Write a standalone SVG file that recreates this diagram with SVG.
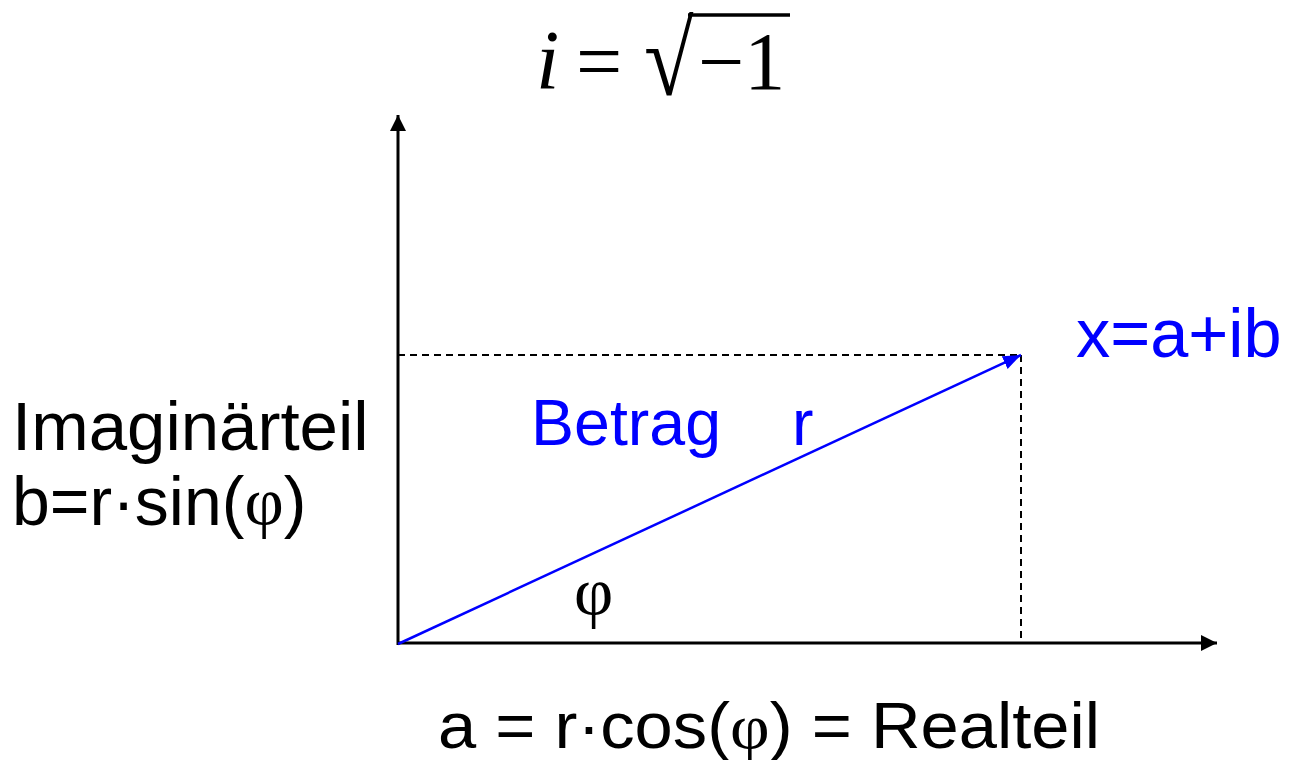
<svg xmlns="http://www.w3.org/2000/svg" width="1289" height="760" viewBox="0 0 1289 760">
<defs>
<marker id="ah" viewBox="0 0 16 16" refX="16" refY="8" markerWidth="16" markerHeight="16" markerUnits="userSpaceOnUse" orient="auto"><path d="M0,0 L16,8 L0,16 z" fill="#000"/></marker>
<marker id="ahb" viewBox="0 0 18 14" refX="18" refY="7" markerWidth="18" markerHeight="14" markerUnits="userSpaceOnUse" orient="auto"><path d="M0,0 L18,7 L0,14 z" fill="#0000ff"/></marker>
</defs>
<style>
.sans{font-family:"Liberation Sans",Arial,sans-serif;}
.serif{font-family:"Liberation Serif","Times New Roman",serif;}
.blue{fill:#0000ff;}
.axis{stroke:#000;stroke-width:3;fill:none;}
.dash{stroke:#000;stroke-width:2;stroke-dasharray:7,5;fill:none;}
</style>
<rect width="1289" height="760" fill="#fff"/>
<g id="formula">
<text class="serif" x="536" y="89" font-size="84" font-style="italic">i</text>
<text class="serif" x="576" y="89" font-size="82">=</text>
<text class="serif" transform="translate(644,95) scale(1.1,1.28)" x="0" y="0" font-size="82" font-weight="bold">√</text>
<line x1="688" y1="15" x2="790" y2="15" stroke="#000" stroke-width="3.5"/>
<text class="serif" x="698" y="89" font-size="82">−1</text>
</g>
<g id="connectors">
<line class="axis" x1="398" y1="645" x2="398" y2="115" marker-end="url(#ah)"/>
<line class="axis" x1="397" y1="643" x2="1217" y2="643" marker-end="url(#ah)"/>
<line class="dash" x1="398" y1="355" x2="1021" y2="355"/>
<line class="dash" x1="1021" y1="355" x2="1021" y2="643"/>
<line x1="398" y1="644" x2="1021" y2="355" stroke="#0000ff" stroke-width="2.5" marker-end="url(#ahb)"/>
</g>
<g id="point-label">
<text class="sans blue" x="1076" y="357" font-size="68.5">x=a+ib</text>
</g>
<g id="imag-label">
<text class="sans" x="12" y="450" font-size="69">Imaginärteil</text>
<text class="sans" x="12" y="525" font-size="68">b=r·sin(<tspan class="serif">φ</tspan>)</text>
</g>
<g id="betrag-label">
<text class="sans blue" x="531" y="445" font-size="64.5">Betrag</text>
<text class="sans blue" x="792" y="445" font-size="64.5">r</text>
</g>
<g id="angle-label">
<text class="serif" x="574" y="615" font-size="68">φ</text>
</g>
<g id="real-label">
<text class="sans" x="438" y="748" font-size="64" textLength="662" lengthAdjust="spacingAndGlyphs">a = r·cos(<tspan class="serif">φ</tspan>) = Realteil</text>
</g>
</svg>
